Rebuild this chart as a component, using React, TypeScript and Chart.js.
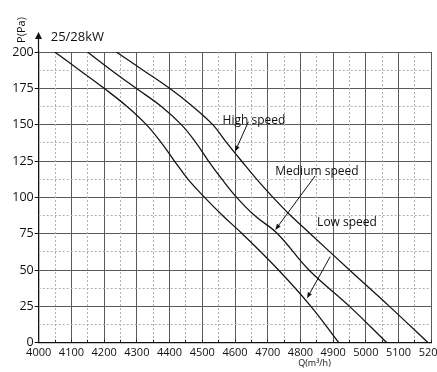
import { useEffect, useRef } from "react";
import { Chart, registerables } from "chart.js";

Chart.register(...registerables);

// Fan curve: static pressure P (Pa) against air flow Q (m³/h) at three fan speeds
const pressureLevels = [200, 187.5, 175, 162.5, 150, 137.5, 125, 112.5, 100, 87.5, 75, 50, 25, 0];
const lowSpeedFlow = [4049, 4125, 4200, 4270, 4329, 4375, 4415, 4456, 4507, 4562, 4622, 4733, 4832, 4917];
const mediumSpeedFlow = [4149, 4222, 4298, 4375, 4436, 4481, 4519, 4560, 4605, 4660, 4730, 4826, 4950, 5064];
const highSpeedFlow = [4237, 4319, 4400, 4471, 4532, 4575, 4620, 4666, 4716, 4770, 4830, 4950, 5072, 5190];

const flowTicks = [4000, 4100, 4200, 4300, 4400, 4500, 4600, 4700, 4800, 4900, 5000, 5100, 5200];
const pressureTicks = [0, 25, 50, 75, 100, 125, 150, 175, 200];

// Callout labels: text, text anchor (flow, pressure), arrow start and arrow tip on the curve
const calloutText = ["High speed", "Medium speed", "Low speed"];
const calloutAnchor = [[4562, 153], [4723, 117.4], [4851, 82.4]];
const calloutArrowFrom = [[4641, 152], [4845, 114.7], [4891, 59.2]];
const calloutArrowTo = [[4600, 131.4], [4723, 77.6], [4820, 30.5]];

const unitTitle = "25/28kW";
const yTitle = "P(Pa)";
const xTitle = "Q(m³/h)";

const FONT = "'Open Sans', 'Noto Sans', sans-serif";

const midpoints = (arr: number[]) => arr.slice(1).map((v, i) => (arr[i] + v) / 2);
const crisp = (p: number) => Math.round(p - 0.5) + 0.5;

function drawArrow(ctx: CanvasRenderingContext2D, x1: number, y1: number, x2: number, y2: number) {
  const ang = Math.atan2(y2 - y1, x2 - x1);
  const len = 6;
  const half = 2.3;
  const bx = x2 - len * Math.cos(ang);
  const by = y2 - len * Math.sin(ang);
  ctx.beginPath();
  ctx.moveTo(x1, y1);
  ctx.lineTo(bx, by);
  ctx.stroke();
  ctx.beginPath();
  ctx.moveTo(x2, y2);
  ctx.lineTo(bx + half * Math.sin(ang), by - half * Math.cos(ang));
  ctx.lineTo(bx - half * Math.sin(ang), by + half * Math.cos(ang));
  ctx.closePath();
  ctx.fill();
}

const decorPlugin = {
  id: "fanDecor",
  beforeDatasetsDraw(chart: any) {
    const { ctx, chartArea: a, scales } = chart;
    const x = scales.x;
    const y = scales.y;
    ctx.save();
    // dashed minor grid
    ctx.strokeStyle = "#b0b0b0";
    ctx.lineWidth = 1;
    ctx.setLineDash([2, 2]);
    for (const v of midpoints(flowTicks)) {
      const px = crisp(x.getPixelForValue(v));
      ctx.beginPath();
      ctx.moveTo(px, a.top);
      ctx.lineTo(px, a.bottom);
      ctx.stroke();
    }
    for (const v of midpoints(pressureTicks)) {
      const py = crisp(y.getPixelForValue(v));
      ctx.beginPath();
      ctx.moveTo(a.left, py);
      ctx.lineTo(a.right, py);
      ctx.stroke();
    }
    ctx.restore();
  },
  afterDraw(chart: any) {
    const { ctx, chartArea: a, scales } = chart;
    const x = scales.x;
    const y = scales.y;
    ctx.save();

    // small inward ticks along the flow axis
    ctx.strokeStyle = "#222";
    ctx.lineWidth = 1;
    const allX = [...flowTicks, ...midpoints(flowTicks)];
    for (const v of allX) {
      const px = crisp(x.getPixelForValue(v));
      ctx.beginPath();
      ctx.moveTo(px, a.bottom);
      ctx.lineTo(px, a.bottom - 3);
      ctx.stroke();
    }

    // pressure axis extended with an arrow head
    const ax = crisp(a.left);
    ctx.strokeStyle = "#111";
    ctx.fillStyle = "#111";
    ctx.lineWidth = 1.2;
    ctx.beginPath();
    ctx.moveTo(ax, a.top);
    ctx.lineTo(ax, a.top - 14);
    ctx.stroke();
    ctx.beginPath();
    ctx.moveTo(ax, a.top - 20);
    ctx.lineTo(ax - 3.5, a.top - 13);
    ctx.lineTo(ax + 3.5, a.top - 13);
    ctx.closePath();
    ctx.fill();

    // titles
    ctx.fillStyle = "#111";
    ctx.textBaseline = "middle";
    ctx.textAlign = "left";
    ctx.font = `13px ${FONT}`;
    ctx.fillText(unitTitle, a.left + 12, a.top - 14.5);

    ctx.save();
    ctx.translate(a.left - 16.5, a.top - 22);
    ctx.rotate(-Math.PI / 2);
    ctx.textAlign = "center";
    ctx.font = `11px ${FONT}`;
    ctx.fillText(yTitle, 0, 0);
    ctx.restore();

    ctx.textAlign = "center";
    ctx.font = `9px ${FONT}`;
    ctx.fillText(xTitle, x.getPixelForValue(4843), a.bottom + 21);

    // speed callouts
    ctx.textAlign = "left";
    ctx.font = `12px ${FONT}`;
    ctx.lineWidth = 1;
    calloutText.forEach((t, i) => {
      const [lx, ly] = calloutAnchor[i];
      ctx.fillText(t, x.getPixelForValue(lx), y.getPixelForValue(ly));
      const [fx, fy] = calloutArrowFrom[i];
      const [tx, ty] = calloutArrowTo[i];
      drawArrow(
        ctx,
        x.getPixelForValue(fx),
        y.getPixelForValue(fy),
        x.getPixelForValue(tx),
        y.getPixelForValue(ty)
      );
    });
    ctx.restore();
  },
};

function toPoints(flow: number[]) {
  return flow.map((q, i) => ({ x: q, y: pressureLevels[i] }));
}

export default function App() {
  const canvasRef = useRef<HTMLCanvasElement | null>(null);

  useEffect(() => {
    document.body.style.margin = "0";
    const canvas = canvasRef.current;
    if (!canvas) return;

    const curveStyle = {
      borderColor: "#151515",
      borderWidth: 1.3,
      pointRadius: 0,
      fill: false,
      tension: 0.4,
    };

    const chart = new Chart(canvas, {
      type: "line",
      data: {
        datasets: [
          { label: "Low speed", data: toPoints(lowSpeedFlow), ...curveStyle },
          { label: "Medium speed", data: toPoints(mediumSpeedFlow), ...curveStyle },
          { label: "High speed", data: toPoints(highSpeedFlow), ...curveStyle },
        ],
      },
      options: {
        responsive: false,
        animation: false,
        events: [],
        layout: { padding: { top: 52, right: 5.7, left: 0, bottom: 0 } },
        plugins: {
          legend: { display: false },
          tooltip: { enabled: false },
        },
        scales: {
          x: {
            type: "linear",
            min: flowTicks[0],
            max: flowTicks[flowTicks.length - 1],
            afterBuildTicks: (s: any) => {
              s.ticks = flowTicks.map((v) => ({ value: v }));
            },
            afterFit: (s: any) => {
              s.height = 29.3;
              s.paddingLeft = 0;
              s.paddingRight = 0;
            },
            grid: { color: "#5a5a5a", lineWidth: 1, drawTicks: false },
            border: { color: "#111", width: 1.3 },
            ticks: {
              color: "#111",
              padding: 4,
              maxRotation: 0,
              autoSkip: false,
              font: { family: FONT, size: 11 },
              callback: (v: any) => String(v),
            },
          },
          y: {
            type: "linear",
            min: pressureTicks[0],
            max: pressureTicks[pressureTicks.length - 1],
            afterBuildTicks: (s: any) => {
              s.ticks = pressureTicks.map((v) => ({ value: v }));
            },
            afterFit: (s: any) => {
              s.width = 38.7;
            },
            grid: { color: "#5a5a5a", lineWidth: 1, drawTicks: true, tickLength: 4, tickColor: "#111" },
            border: { color: "#111", width: 1.3 },
            ticks: {
              color: "#111",
              padding: 1,
              autoSkip: false,
              font: { family: FONT, size: 12.5 },
              callback: (v: any) => String(v),
            },
          },
        },
      },
      plugins: [decorPlugin],
    });

    return () => chart.destroy();
  }, []);

  return (
    <div style={{ width: 437, height: 372, background: "#fff" }}>
      <canvas ref={canvasRef} width={437} height={372} />
    </div>
  );
}
